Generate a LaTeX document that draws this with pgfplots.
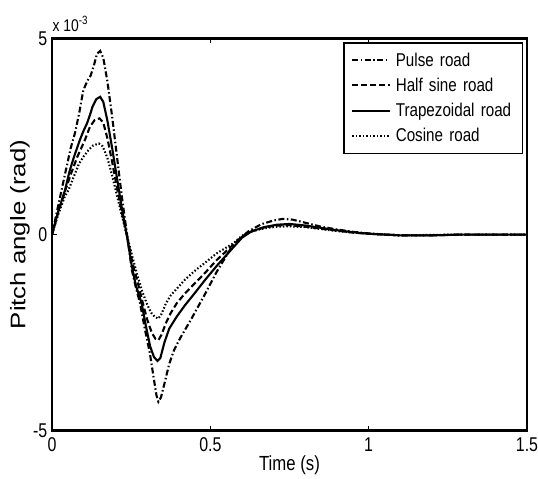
\documentclass[border=0pt]{standalone}
\usepackage{pgfplots}
\pgfplotsset{compat=1.18}
\usepackage{fontspec}
\setmainfont{Liberation Sans}[FakeStretch=0.82]
\newfontfamily\tickfont{Liberation Sans}[FakeStretch=0.8]
\newfontfamily\ylabfont{Liberation Sans}[FakeStretch=1.22]

\pgfplotstableread{
t y
0 0
0.02 0.75
0.04 1.5
0.059 2.2
0.073 2.6
0.086 3.1
0.099 3.68
0.112 3.92
0.122 4.05
0.132 4.3
0.142 4.6
0.152 4.68
0.162 4.5
0.175 3.9
0.19 3.0
0.205 2.0
0.22 1.0
0.237 0.0
0.252 -0.9
0.265 -1.35
0.278 -1.75
0.293 -2.4
0.309 -3.02
0.322 -3.7
0.33 -4.1
0.336 -4.26
0.344 -4.15
0.355 -3.8
0.37 -3.3
0.385 -2.95
0.404 -2.65
0.44 -2.15
0.483 -1.52
0.52 -0.95
0.562 -0.39
0.594 -0.1
0.62 0.08
0.66 0.26
0.7 0.36
0.73 0.4
0.76 0.38
0.8 0.3
0.85 0.2
0.9 0.13
0.95 0.07
1.0 0.03
1.05 0.0
1.1 -0.02
1.2 -0.02
1.3 0.0
1.4 0.0
1.5 0.0
}\pulse

\pgfplotstableread{
t y
0 0
0.02 0.58
0.041 1.1
0.06 1.55
0.08 1.98
0.104 2.41
0.12 2.75
0.135 2.92
0.15 2.96
0.162 2.85
0.175 2.45
0.19 1.85
0.205 1.2
0.22 0.58
0.237 -0.05
0.255 -0.75
0.27 -1.2
0.287 -1.75
0.3 -2.15
0.315 -2.5
0.327 -2.66
0.336 -2.69
0.346 -2.55
0.36 -2.25
0.375 -2.0
0.394 -1.75
0.42 -1.5
0.45 -1.25
0.483 -0.98
0.52 -0.65
0.56 -0.35
0.6 -0.05
0.63 0.08
0.67 0.18
0.71 0.23
0.75 0.24
0.8 0.2
0.85 0.15
0.9 0.1
0.95 0.05
1.0 0.02
1.05 0.0
1.1 -0.02
1.2 -0.02
1.3 0
1.5 0
}\halfsine

\pgfplotstableread{
t y
0 0
0.02 0.6
0.041 1.13
0.055 1.6
0.0695 1.98
0.088 2.41
0.1 2.65
0.111 2.84
0.12 3.05
0.128 3.26
0.14 3.45
0.152 3.51
0.162 3.38
0.175 2.9
0.19 2.2
0.205 1.45
0.22 0.7
0.237 -0.05
0.252 -0.8
0.265 -1.3
0.283 -1.75
0.297 -2.35
0.31 -2.85
0.322 -3.12
0.333 -3.22
0.342 -3.15
0.355 -2.75
0.37 -2.4
0.394 -2.09
0.42 -1.8
0.45 -1.5
0.483 -1.16
0.52 -0.8
0.56 -0.44
0.6 -0.08
0.63 0.08
0.67 0.19
0.71 0.25
0.75 0.27
0.8 0.23
0.85 0.17
0.9 0.11
0.95 0.06
1.0 0.02
1.05 0.0
1.1 -0.02
1.2 -0.02
1.3 0
1.5 0
}\trap

\pgfplotstableread{
t y
0 0
0.02 0.52
0.041 0.98
0.052 1.13
0.07 1.5
0.085 1.8
0.099 1.98
0.115 2.15
0.13 2.27
0.148 2.32
0.16 2.25
0.175 1.95
0.19 1.5
0.205 1.0
0.22 0.5
0.237 -0.03
0.255 -0.6
0.27 -1.05
0.285 -1.45
0.299 -1.75
0.312 -1.98
0.325 -2.1
0.336 -2.14
0.346 -2.02
0.36 -1.75
0.375 -1.55
0.394 -1.38
0.42 -1.15
0.45 -0.93
0.483 -0.72
0.52 -0.48
0.573 -0.22
0.6 -0.03
0.63 0.08
0.67 0.16
0.71 0.2
0.75 0.21
0.8 0.19
0.85 0.14
0.9 0.09
0.95 0.05
1.0 0.02
1.05 0.0
1.1 -0.02
1.2 -0.01
1.3 0
1.5 0
}\cosine

\begin{document}
\begin{tikzpicture}
\useasboundingbox (-52bp,-48.2bp) rectangle (486bp,430.8bp);
\begin{axis}[
  scale only axis,
  width=475bp, height=392.5bp,
  xmin=0, xmax=1.5, ymin=-5, ymax=5,
  xtick={0,0.5,1,1.5}, xticklabels={0,0.5,1,1.5},
  ytick={-5,0,5}, yticklabels={-5,0,5},
  tick align=inside,
  major tick length=5bp,
  separate axis lines,
  every outer x axis line/.append style={line width=2.8bp, line cap=rect},
  every outer y axis line/.append style={line width=2.8bp, line cap=rect},
  axis line style={line width=2.8bp, line cap=rect},
  tick style={line width=1.4bp, black},
  xticklabel style={font=\tickfont\fontsize{20}{23}\selectfont, inner sep=0pt, yshift=-7bp},
  yticklabel style={font=\tickfont\fontsize{20}{23}\selectfont, inner sep=0pt, xshift=-4.5bp},
  xlabel={Time (s)},
  xlabel style={at={(axis description cs:0.5,0)}, anchor=base, yshift=-40bp, inner sep=0pt, font=\fontsize{20.5}{24}\selectfont},
  ylabel={Pitch angle (rad)},
  ylabel style={at={([xshift=-32bp]axis description cs:0,0.5)}, anchor=center, inner sep=0pt, font=\ylabfont\fontsize{21.2}{24}\selectfont},
  every axis plot/.append style={line width=2.1bp, black},
  legend image code/.code={\draw[#1] (0bp,0bp) -- (37.4bp,0bp);},
  legend style={at={(axis description cs:1,1)}, anchor=north east, xshift=-3.7bp, yshift=-3.4bp,
    draw=black, line width=1.8bp, fill=white, inner xsep=7.6bp, inner ysep=5bp,
    row sep=0pt, column sep=5bp,
    font=\fontsize{18.6}{21}\selectfont,
    cells={anchor=west},
    nodes={inner sep=0pt, minimum height=25.2bp, text width=119bp}},
  extra description/.code={
    \node[anchor=base west, inner sep=0pt, font=\fontsize{17}{19}\selectfont]
      at (axis description cs:0,1) [xshift=0.5bp, yshift=6.6bp]
      {x 10\raisebox{7.5bp}{\fontsize{12}{13}\selectfont -3}};
  },
]
\addplot[dash pattern=on 6bp off 2.5bp on 1.5bp off 2.5bp] table[x=t,y=y] {\pulse};
\addlegendentry{Pulse road}
\addplot[dash pattern=on 6bp off 3bp] table[x=t,y=y] {\halfsine};
\addlegendentry{Half sine road}
\addplot[solid] table[x=t,y=y] {\trap};
\addlegendentry{Trapezoidal road}
\addplot[dash pattern=on 1.5bp off 2bp] table[x=t,y=y] {\cosine};
\addlegendentry{Cosine road}
\end{axis}
\end{tikzpicture}
\end{document}
